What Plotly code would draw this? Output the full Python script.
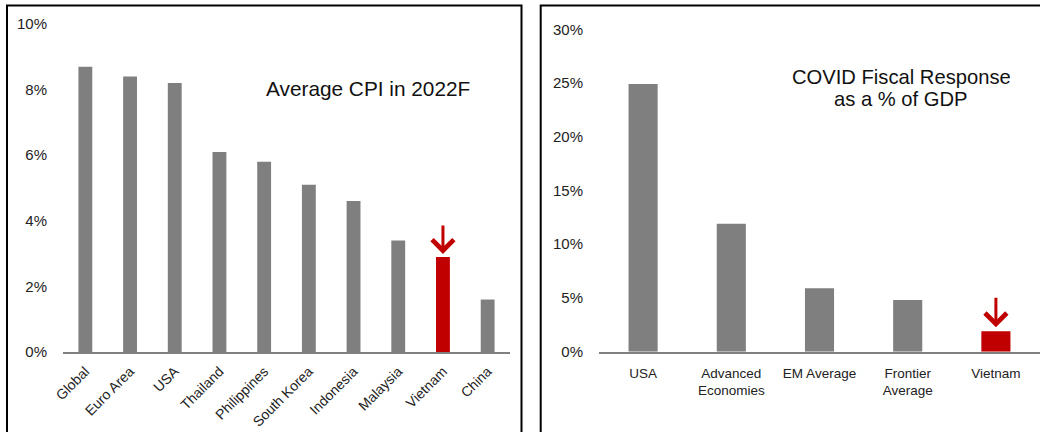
import plotly.graph_objects as go

# ---- data ----
cpi_countries = ["Global", "Euro Area", "USA", "Thailand", "Philippines",
                 "South Korea", "Indonesia", "Malaysia", "Vietnam", "China"]
cpi_values = [8.7, 8.4, 8.2, 6.1, 5.8, 5.1, 4.6, 3.4, 2.9, 1.6]

covid_groups = ["USA", "Advanced<br>Economies", "EM Average", "Frontier<br>Average", "Vietnam"]
covid_values = [24.9, 11.9, 5.9, 4.8, 1.9]

cpi_title = "Average CPI in 2022F"
covid_title_lines = ["COVID Fiscal Response", "as a % of GDP"]

GRAY = "#7f7f7f"
RED = "#c00000"
FONT = "Liberation Sans, Arial, Helvetica, sans-serif"
W, H = 1040, 432

def colors(cats, highlight="Vietnam"):
    return [RED if c == highlight else GRAY for c in cats]

fig = go.Figure()
fig.add_trace(go.Bar(x=cpi_countries, y=cpi_values, marker_color=colors(cpi_countries),
                     width=0.31, xaxis="x", yaxis="y", showlegend=False))
fig.add_trace(go.Bar(x=covid_groups, y=covid_values, marker_color=colors(covid_groups),
                     width=0.33, xaxis="x2", yaxis="y2", showlegend=False))

def px_x(p):
    return p / W

def px_y(p):
    return (H - p) / H

ytick_font = dict(family=FONT, size=15, color="#222222")

fig.update_layout(
    width=W, height=H,
    margin=dict(l=0, r=0, t=0, b=0),
    paper_bgcolor="white", plot_bgcolor="white",
    template="none",
    font=dict(family=FONT, color="#111111"),
    xaxis=dict(domain=[px_x(63), px_x(510)], anchor="y", showline=True,
               linecolor="#808080", linewidth=1.5, ticks="", tickangle=-45,
               ticklabelstandoff=4, range=[-0.5, len(cpi_countries) - 0.5],
               showgrid=False, zeroline=False, automargin=False,
               tickfont=dict(family=FONT, size=14, color="#222222")),
    yaxis=dict(domain=[px_y(352), px_y(24)], anchor="x", range=[0, 10], dtick=2,
               ticksuffix="%", showline=False, ticks="", ticklabelstandoff=15,
               showgrid=False, zeroline=False, automargin=False, tickfont=ytick_font),
    xaxis2=dict(domain=[px_x(599), 1.0], anchor="y2", showline=True,
                linecolor="#808080", linewidth=1.5, ticks="", tickangle=0,
                ticklabelstandoff=8, range=[-0.5, len(covid_groups) - 0.5],
                showgrid=False, zeroline=False, automargin=False,
                tickfont=dict(family=FONT, size=13.5, color="#222222")),
    yaxis2=dict(domain=[px_y(351.7), px_y(29.3)], anchor="x2", range=[0, 30], dtick=5,
                ticksuffix="%", showline=False, ticks="", ticklabelstandoff=15,
                showgrid=False, zeroline=False, automargin=False, tickfont=ytick_font),
)

# panel frames
fig.add_shape(type="rect", xref="paper", yref="paper",
              x0=px_x(7), x1=px_x(521.5), y0=-0.1, y1=px_y(5.5),
              line=dict(color="black", width=2), fillcolor="rgba(0,0,0,0)", layer="below")
fig.add_shape(type="rect", xref="paper", yref="paper",
              x0=px_x(540.7), x1=1.05, y0=-0.1, y1=px_y(5.5),
              line=dict(color="black", width=2), fillcolor="rgba(0,0,0,0)", layer="below")

# titles
fig.add_annotation(text=cpi_title, xref="paper", yref="paper", x=px_x(368), y=px_y(89),
                   xanchor="center", yanchor="middle", showarrow=False,
                   font=dict(family=FONT, size=20.8, color="#111111"))
for i, line in enumerate(covid_title_lines):
    fig.add_annotation(text=line, xref="paper", yref="paper", x=px_x(901), y=px_y(77.3 + 22 * i),
                       xanchor="center", yanchor="middle", showarrow=False,
                       font=dict(family=FONT, size=20.2, color="#111111"))

# red arrows above the Vietnam bars
vi = cpi_countries.index("Vietnam")
fig.add_annotation(x="Vietnam", y=cpi_values[vi], xref="x", yref="y", text="",
                   showarrow=True, arrowhead=4, arrowsize=1.4, arrowwidth=3,
                   arrowcolor=RED, ax=0, ay=-30, yshift=3)
vj = covid_groups.index("Vietnam")
fig.add_annotation(x="Vietnam", y=covid_values[vj], xref="x2", yref="y2", text="",
                   showarrow=True, arrowhead=4, arrowsize=1.4, arrowwidth=3,
                   arrowcolor=RED, ax=0, ay=-31, yshift=4)

fig.write_html("out.html", config={"displayModeBar": False},
               post_script="document.body.style.margin='0';document.body.style.padding='0';")
